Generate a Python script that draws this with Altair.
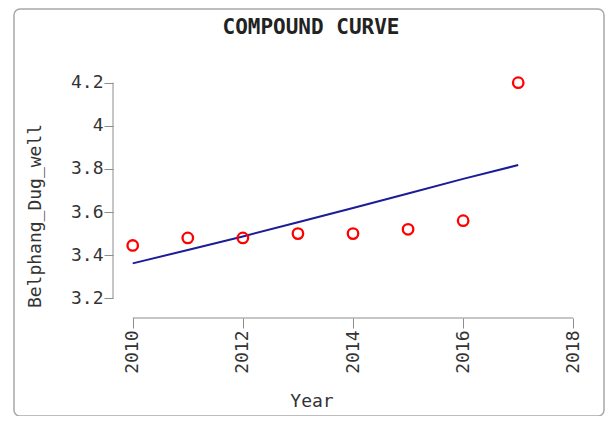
import altair as alt
import pandas as pd

# ---- data ----
years = [2010, 2011, 2012, 2013, 2014, 2015, 2016, 2017]
observed = [3.445, 3.48, 3.48, 3.50, 3.50, 3.52, 3.56, 4.20]
fitted = [3.362, 3.424, 3.487, 3.553, 3.619, 3.686, 3.754, 3.818]
x_ticks = [2010, 2012, 2014, 2016, 2018]
y_ticks = [3.2, 3.4, 3.6, 3.8, 4, 4.2]
title_text = ["COMPOUND CURVE"]
x_title = ["Year"]
y_title = ["Belphang_Dug_well"]

df = pd.DataFrame({"Year": years, "obs": observed, "fit": fitted})

W, H = 470, 248
MONO = "DejaVu Sans Mono"
TXT = "#333333"
AX = "#8c8c8c"

xscale = alt.Scale(domain=[2009.642, 2018.176], nice=False, zero=False)
yscale = alt.Scale(domain=[3.1086, 4.2589], nice=False, zero=False)

x_axis = alt.Axis(values=x_ticks, labelExpr="datum.value + ''", title=None,
                  domain=False, grid=False, tickSize=10, labelAngle=270,
                  labelPadding=2, orient="bottom")
y_axis = alt.Axis(values=y_ticks, labelExpr="datum.value + ''", title=None,
                  domain=False, grid=False, tickSize=9, labelPadding=1,
                  orient="left")

base = alt.Chart(df)

line = base.mark_line(color="#1c1c96", strokeWidth=2).encode(
    x=alt.X("Year:Q", scale=xscale, axis=x_axis),
    y=alt.Y("fit:Q", scale=yscale, axis=y_axis),
)

points = base.mark_point(shape="circle", filled=False, color="#ff0000",
                         size=110, strokeWidth=2.3, opacity=1).encode(
    x=alt.X("Year:Q", scale=xscale, axis=x_axis),
    y=alt.Y("obs:Q", scale=yscale, axis=y_axis),
)

axis_df = pd.DataFrame({"x0": [x_ticks[0]], "x1": [x_ticks[-1]],
                        "y0": [y_ticks[0]], "y1": [y_ticks[-1]]})
yaxis_line = alt.Chart(axis_df).mark_rule(color=AX, strokeWidth=1).encode(
    x=alt.value(0),
    y=alt.Y("y0:Q", scale=yscale, axis=y_axis),
    y2="y1:Q",
)
xaxis_line = alt.Chart(axis_df).mark_rule(color=AX, strokeWidth=1).encode(
    y=alt.value(H),
    x=alt.X("x0:Q", scale=xscale, axis=x_axis),
    x2="x1:Q",
)

frame = alt.Chart(pd.DataFrame({"k": [0]})).mark_rect(
    fill=None, stroke="#a8a8a8", strokeWidth=1.5, cornerRadius=6
).encode(x=alt.value(-99), x2=alt.value(491), y=alt.value(-61), y2=alt.value(346))

title = alt.Chart(pd.DataFrame({"t": title_text})).mark_text(
    font=MONO, fontSize=21, fontWeight="bold", color="#222222",
    align="center", baseline="middle"
).encode(text="t:N", x=alt.value(198), y=alt.value(-42))

xt = alt.Chart(pd.DataFrame({"t": x_title})).mark_text(
    font=MONO, fontSize=18, color=TXT, align="center", baseline="middle"
).encode(text="t:N", x=alt.value(199), y=alt.value(332))

yt = alt.Chart(pd.DataFrame({"t": y_title})).mark_text(
    font=MONO, fontSize=18, color=TXT, align="center", baseline="middle", angle=270
).encode(text="t:N", x=alt.value(-77), y=alt.value(146))

chart = alt.layer(frame, yaxis_line, xaxis_line, line, points, title, xt, yt).properties(
    width=W, height=H,
    autosize=alt.AutoSizeParams(type="none"),
    padding={"left": 105, "top": 62, "right": 23, "bottom": 98},
).configure_view(stroke=None).configure_axis(
    labelFont=MONO, labelFontSize=18, labelColor=TXT,
    tickColor=AX, tickWidth=1,
)

chart.save("out.html", embed_options={"renderer": "svg", "actions": False})
